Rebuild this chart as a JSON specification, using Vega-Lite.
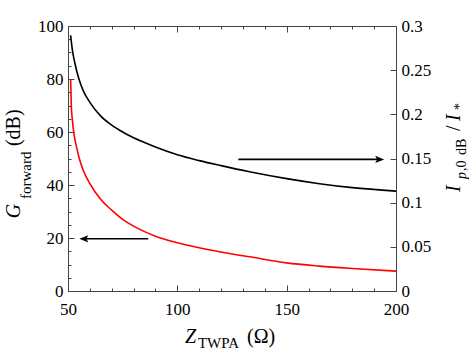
{
  "$schema": "https://vega.github.io/schema/vega-lite/v6.json",
  "width": 328,
  "height": 265,
  "autosize": "none",
  "padding": {"left": 68, "top": 26, "right": 73, "bottom": 61},
  "background": "white",
  "config": {
    "view": {"stroke": null},
    "font": "Liberation Serif",
    "text": {"font": "Liberation Serif", "color": "#000000"},
    "axis": {
      "grid": false,
      "domainColor": "#444444",
      "tickColor": "#444444",
      "labelFont": "Liberation Serif",
      "labelFontSize": 17,
      "labelColor": "#000000"
    }
  },
  "datasets": {
    "gain": [
      {"Z": 51.2, "G": 80},
      {"Z": 51.5, "G": 70},
      {"Z": 52, "G": 64.5},
      {"Z": 52.7, "G": 59.5},
      {"Z": 54, "G": 54},
      {"Z": 55, "G": 50.5},
      {"Z": 57, "G": 45.5},
      {"Z": 60, "G": 40.5},
      {"Z": 65, "G": 34.5},
      {"Z": 70, "G": 30.5},
      {"Z": 75, "G": 27},
      {"Z": 80, "G": 24.5},
      {"Z": 85, "G": 22.4},
      {"Z": 90, "G": 20.7},
      {"Z": 100, "G": 18.2},
      {"Z": 110, "G": 16.3},
      {"Z": 120, "G": 14.7},
      {"Z": 133, "G": 12.9},
      {"Z": 150, "G": 10.6},
      {"Z": 165, "G": 9.4},
      {"Z": 180, "G": 8.5},
      {"Z": 200, "G": 7.5}
    ],
    "current": [
      {"Z": 51.2, "I": 0.2895},
      {"Z": 52, "I": 0.273},
      {"Z": 53, "I": 0.2595},
      {"Z": 55, "I": 0.24},
      {"Z": 57, "I": 0.2265},
      {"Z": 60, "I": 0.2136},
      {"Z": 65, "I": 0.198},
      {"Z": 70, "I": 0.1878},
      {"Z": 75, "I": 0.18},
      {"Z": 80, "I": 0.1734},
      {"Z": 85, "I": 0.168},
      {"Z": 90, "I": 0.1629},
      {"Z": 100, "I": 0.1542},
      {"Z": 110, "I": 0.1476},
      {"Z": 120, "I": 0.1419},
      {"Z": 133, "I": 0.135},
      {"Z": 150, "I": 0.1272},
      {"Z": 165, "I": 0.1215},
      {"Z": 180, "I": 0.117},
      {"Z": 200, "I": 0.1131}
    ],
    "arrowLeft": [{"Z": 86.7, "Z2": 57, "tip": 55.2, "G": 19.7}],
    "arrowRight": [{"Z": 127.9, "Z2": 193, "tip": 194.6, "I": 0.149}],
    "one": [{}]
  },
  "layer": [
    {
      "data": {"name": "gain"},
      "mark": {"type": "line", "color": "#ff0000", "strokeWidth": 1.6, "interpolate": "monotone"},
      "encoding": {
        "x": {
          "field": "Z", "type": "quantitative",
          "scale": {"domain": [50, 200], "nice": false},
          "axis": {
            "orient": "bottom", "title": null,
            "values": [50, 60, 70, 80, 90, 100, 110, 120, 130, 140, 150, 160, 170, 180, 190, 200],
            "labelExpr": "datum.value % 50 === 0 ? format(datum.value, 'd') : ''",
            "tickSize": {"condition": {"test": "datum.value % 50 === 0", "value": -6}, "value": -3},
            "labelPadding": 16,
            "labelFlush": false,
            "labelOverlap": false,
            "labelFont": {"condition": {"test": "datum.value >= 0", "value": "Liberation Serif"}, "value": "Liberation Serif"},
            "labelFontSize": 17
          }
        },
        "y": {
          "field": "G", "type": "quantitative",
          "scale": {"domain": [0, 100], "nice": false},
          "axis": {
            "orient": "left", "title": null,
            "values": [0, 5, 10, 15, 20, 25, 30, 35, 40, 45, 50, 55, 60, 65, 70, 75, 80, 85, 90, 95, 100],
            "labelExpr": "datum.value % 20 === 0 ? format(datum.value, 'd') : ''",
            "tickSize": {"condition": {"test": "datum.value % 20 === 0", "value": -6}, "value": -3},
            "labelPadding": 11,
            "labelOverlap": false,
            "labelFont": {"condition": {"test": "datum.value >= 0", "value": "Liberation Serif"}, "value": "Liberation Serif"},
            "labelFontSize": 17
          }
        }
      }
    },
    {
      "data": {"name": "current"},
      "mark": {"type": "line", "color": "#000000", "strokeWidth": 1.6, "interpolate": "monotone"},
      "encoding": {
        "x": {
          "field": "Z", "type": "quantitative",
          "scale": {"domain": [50, 200], "nice": false},
          "axis": {
            "orient": "top", "title": null, "labels": false,
            "values": [50, 60, 70, 80, 90, 100, 110, 120, 130, 140, 150, 160, 170, 180, 190, 200],
            "tickSize": {"condition": {"test": "datum.value % 50 === 0", "value": -6}, "value": -3}
          }
        },
        "y": {
          "field": "I", "type": "quantitative",
          "scale": {"domain": [0, 0.3], "nice": false},
          "axis": {
            "orient": "right", "title": null,
            "values": [0, 0.05, 0.1, 0.15, 0.2, 0.25, 0.3],
            "format": "~g",
            "tickSize": -6,
            "labelPadding": 11,
            "labelOverlap": false,
            "labelFont": {"condition": {"test": "datum.value >= 0", "value": "Liberation Serif"}, "value": "Liberation Serif"},
            "labelFontSize": 17
          }
        }
      }
    },
    {
      "data": {"name": "arrowLeft"},
      "mark": {"type": "rule", "color": "#000000", "strokeWidth": 1.6},
      "encoding": {
        "x": {"field": "Z", "type": "quantitative", "scale": {"domain": [50, 200], "nice": false}, "axis": null},
        "x2": {"field": "Z2"},
        "y": {"field": "G", "type": "quantitative", "scale": {"domain": [0, 100], "nice": false}, "axis": null}
      }
    },
    {
      "data": {"name": "arrowLeft"},
      "mark": {"type": "point", "shape": "M0,0 L2,-0.8 L1.55,0 L2,0.8 Z", "filled": true, "size": 81, "color": "#000000", "opacity": 1},
      "encoding": {
        "x": {"field": "tip", "type": "quantitative", "scale": {"domain": [50, 200], "nice": false}, "axis": null},
        "y": {"field": "G", "type": "quantitative", "scale": {"domain": [0, 100], "nice": false}, "axis": null}
      }
    },
    {
      "data": {"name": "arrowRight"},
      "mark": {"type": "rule", "color": "#000000", "strokeWidth": 1.6},
      "encoding": {
        "x": {"field": "Z", "type": "quantitative", "scale": {"domain": [50, 200], "nice": false}, "axis": null},
        "x2": {"field": "Z2"},
        "y": {"field": "I", "type": "quantitative", "scale": {"domain": [0, 0.3], "nice": false}, "axis": null}
      }
    },
    {
      "data": {"name": "arrowRight"},
      "mark": {"type": "point", "shape": "M0,0 L-2,-0.8 L-1.55,0 L-2,0.8 Z", "filled": true, "size": 81, "color": "#000000", "opacity": 1},
      "encoding": {
        "x": {"field": "tip", "type": "quantitative", "scale": {"domain": [50, 200], "nice": false}, "axis": null},
        "y": {"field": "I", "type": "quantitative", "scale": {"domain": [0, 0.3], "nice": false}, "axis": null}
      }
    },
    {
      "data": {"name": "one"},
      "mark": {"type": "text", "text": "G", "font": "Liberation Serif", "fontSize": 20, "fontStyle": "italic", "angle": 270, "align": "left", "baseline": "alphabetic", "dy": -48},
      "encoding": {"x": {"datum": 50, "scale": {"domain": [50, 200], "nice": false}, "axis": null}, "y": {"datum": 27.5, "scale": {"domain": [0, 100], "nice": false}, "axis": null}}
    },
    {
      "data": {"name": "one"},
      "mark": {"type": "text", "text": "forward", "font": "Liberation Serif", "fontSize": 15, "angle": 270, "align": "left", "baseline": "alphabetic", "dy": -37},
      "encoding": {"x": {"datum": 50, "scale": {"domain": [50, 200], "nice": false}, "axis": null}, "y": {"datum": 34.7, "scale": {"domain": [0, 100], "nice": false}, "axis": null}}
    },
    {
      "data": {"name": "one"},
      "mark": {"type": "text", "text": "(dB)", "font": "Liberation Serif", "fontSize": 20, "angle": 270, "align": "left", "baseline": "alphabetic", "dy": -48},
      "encoding": {"x": {"datum": 50, "scale": {"domain": [50, 200], "nice": false}, "axis": null}, "y": {"datum": 54.7, "scale": {"domain": [0, 100], "nice": false}, "axis": null}}
    },
    {
      "data": {"name": "one"},
      "mark": {"type": "text", "text": "Z", "font": "Liberation Serif", "fontSize": 20, "fontStyle": "italic", "align": "left", "baseline": "alphabetic", "dy": 52},
      "encoding": {"x": {"datum": 103.5, "scale": {"domain": [50, 200], "nice": false}, "axis": null}, "y": {"datum": 0, "scale": {"domain": [0, 100], "nice": false}, "axis": null}}
    },
    {
      "data": {"name": "one"},
      "mark": {"type": "text", "text": "TWPA", "font": "Liberation Serif", "fontSize": 15, "align": "left", "baseline": "alphabetic", "dy": 57},
      "encoding": {"x": {"datum": 109.4, "scale": {"domain": [50, 200], "nice": false}, "axis": null}, "y": {"datum": 0, "scale": {"domain": [0, 100], "nice": false}, "axis": null}}
    },
    {
      "data": {"name": "one"},
      "mark": {"type": "text", "text": "(Ω)", "font": "Liberation Serif", "fontSize": 20, "align": "left", "baseline": "alphabetic", "dy": 52},
      "encoding": {"x": {"datum": 131.9, "scale": {"domain": [50, 200], "nice": false}, "axis": null}, "y": {"datum": 0, "scale": {"domain": [0, 100], "nice": false}, "axis": null}}
    },
    {
      "data": {"name": "one"},
      "mark": {"type": "text", "text": "I", "font": "Liberation Serif", "fontSize": 20, "fontStyle": "italic", "angle": 270, "align": "left", "baseline": "alphabetic", "dy": 63.5},
      "encoding": {"x": {"datum": 200, "scale": {"domain": [50, 200], "nice": false}, "axis": null}, "y": {"datum": 0.1121, "scale": {"domain": [0, 0.3], "nice": false}, "axis": null}}
    },
    {
      "data": {"name": "one"},
      "mark": {"type": "text", "text": "p", "font": "Liberation Serif", "fontSize": 14, "fontStyle": "italic", "angle": 270, "align": "left", "baseline": "alphabetic", "dy": 69.5},
      "encoding": {"x": {"datum": 200, "scale": {"domain": [50, 200], "nice": false}, "axis": null}, "y": {"datum": 0.1268, "scale": {"domain": [0, 0.3], "nice": false}, "axis": null}}
    },
    {
      "data": {"name": "one"},
      "mark": {"type": "text", "text": ",0", "font": "Liberation Serif", "fontSize": 14, "angle": 270, "align": "left", "baseline": "alphabetic", "dy": 69.5},
      "encoding": {"x": {"datum": 200, "scale": {"domain": [50, 200], "nice": false}, "axis": null}, "y": {"datum": 0.1359, "scale": {"domain": [0, 0.3], "nice": false}, "axis": null}}
    },
    {
      "data": {"name": "one"},
      "mark": {"type": "text", "text": "dB", "font": "Liberation Serif", "fontSize": 14, "angle": 270, "align": "left", "baseline": "alphabetic", "dy": 69.5},
      "encoding": {"x": {"datum": 200, "scale": {"domain": [50, 200], "nice": false}, "axis": null}, "y": {"datum": 0.154, "scale": {"domain": [0, 0.3], "nice": false}, "axis": null}}
    },
    {
      "data": {"name": "one"},
      "mark": {"type": "text", "text": "/", "font": "Liberation Serif", "fontSize": 20, "angle": 270, "align": "left", "baseline": "alphabetic", "dy": 63.5},
      "encoding": {"x": {"datum": 200, "scale": {"domain": [50, 200], "nice": false}, "axis": null}, "y": {"datum": 0.1812, "scale": {"domain": [0, 0.3], "nice": false}, "axis": null}}
    },
    {
      "data": {"name": "one"},
      "mark": {"type": "text", "text": "I", "font": "Liberation Serif", "fontSize": 20, "fontStyle": "italic", "angle": 270, "align": "left", "baseline": "alphabetic", "dy": 63.5},
      "encoding": {"x": {"datum": 200, "scale": {"domain": [50, 200], "nice": false}, "axis": null}, "y": {"datum": 0.1925, "scale": {"domain": [0, 0.3], "nice": false}, "axis": null}}
    },
    {
      "data": {"name": "one"},
      "mark": {"type": "text", "text": "*", "font": "Liberation Serif", "fontSize": 14, "angle": 270, "align": "left", "baseline": "alphabetic", "dy": 68},
      "encoding": {"x": {"datum": 200, "scale": {"domain": [50, 200], "nice": false}, "axis": null}, "y": {"datum": 0.205, "scale": {"domain": [0, 0.3], "nice": false}, "axis": null}}
    }
  ],
  "resolve": {
    "scale": {"x": "independent", "y": "independent"},
    "axis": {"x": "independent", "y": "independent"}
  }
}
